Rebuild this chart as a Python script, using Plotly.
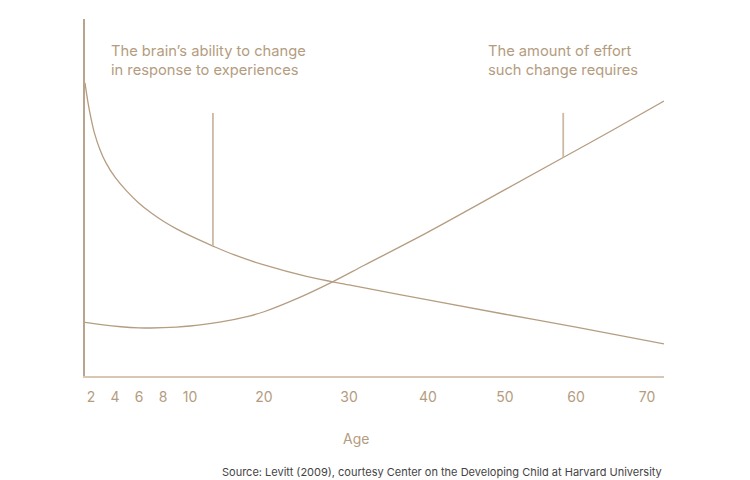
import numpy as np
import plotly.graph_objects as go

# ---- data ----
tick_ages = [2, 4, 6, 8, 10, 20, 30, 40, 50, 60, 70]
tick_labels = [str(a) for a in tick_ages]

# Brain's ability to change in response to experiences
plasticity_age = [1.5, 1.75, 2, 2.3, 2.75, 3.25, 4, 5, 6, 7, 8, 9, 10, 13.1, 16, 20, 25, 30, 40, 50, 60, 72.4]
plasticity = [82.1, 76.6, 72.2, 67.9, 63.4, 59.7, 55.7, 51.7, 48.4, 45.7, 43.4, 41.2, 39.3, 36.4,
              33.9, 31.1, 27.9, 25.5, 21.3, 17.3, 13.7, 9.0]

# Amount of effort such change requires
effort_age = [1.5, 3, 4.5, 6, 7, 9, 10, 14, 18, 20, 24, 28, 32, 40, 50, 58.2, 65, 72.4]
effort = [15.0, 14.3, 13.8, 13.5, 13.45, 13.7, 14.0, 15.1, 16.8, 18.0, 21.8, 26.3, 31.1, 40.3,
          52.2, 61.2, 68.7, 77.0]

# Pointer lines from the labels down to each curve
pointer_age = [13.1, 58.2]
pointer_bottom = [36.4, 61.2]
pointer_top = [73.7, 73.7]

label_brain = "The brain\u2019s ability to change<br>in response to experiences"
label_effort = "The amount of effort<br>such change requires"
x_title = "Age"
source = "Source: Levitt (2009), courtesy Center on the Developing Child at Harvard University"

# ---- layout of the illustrated (non-uniform) age axis ----
_knot_age = [1.5] + tick_ages + [72.4]
_knot_pos = [0, 6, 30, 54, 78, 105, 179, 264, 343, 420, 491, 562, 579]


def warp(a):
    return np.interp(np.asarray(a, dtype=float), _knot_age, _knot_pos)


TAN = "#b49c80"
LINE = "#b59d82"
FONT = "Inter, Lato, sans-serif"

fig = go.Figure()
fig.add_trace(go.Scatter(x=warp(plasticity_age), y=plasticity, mode="lines",
                         line=dict(color=LINE, width=1.3, shape="spline", smoothing=1.0),
                         hoverinfo="skip"))
fig.add_trace(go.Scatter(x=warp(effort_age), y=effort, mode="lines",
                         line=dict(color=LINE, width=1.3, shape="spline", smoothing=1.0),
                         hoverinfo="skip"))
for a, b, t in zip(pointer_age, pointer_bottom, pointer_top):
    fig.add_trace(go.Scatter(x=warp([a, a]), y=[b, t], mode="lines",
                             line=dict(color="#cdb9a4", width=1.8), hoverinfo="skip"))

# page has an 8px body margin; figure is sized so the plot lands where the reference has it
OFF = 8
W, H = 750 - OFF, 480 - OFF
L, R, T, B = 85 - OFF, 86, 19 - OFF, 104
pw, ph = W - L - R, H - T - B


def px(x):
    return (x - OFF - L) / pw


def py(y):
    return (H - B - (y - OFF)) / ph


fig.update_layout(
    width=W, height=H,
    margin=dict(l=L, r=R, t=T, b=B),
    paper_bgcolor="white", plot_bgcolor="white",
    showlegend=False,
    font=dict(family=FONT, color=TAN),
    xaxis=dict(range=[0, 579], tickvals=warp(tick_ages), ticktext=tick_labels,
               showgrid=False, zeroline=False, showline=True, linecolor="#d8c7b5",
               linewidth=2, ticks="outside", ticklen=7, tickcolor="rgba(0,0,0,0)",
               tickfont=dict(size=14, color=TAN, family=FONT), fixedrange=True),
    yaxis=dict(range=[0, 100], showgrid=False, zeroline=False, showline=True,
               linecolor="#b9a48d", linewidth=1.5, showticklabels=False, ticks="",
               fixedrange=True),
    annotations=[
        dict(text=label_brain, xref="paper", yref="paper", x=px(109), y=py(60),
             xanchor="left", yanchor="middle", align="left", showarrow=False,
             font=dict(size=14.7, color=TAN, family=FONT)),
        dict(text=label_effort, xref="paper", yref="paper", x=px(486), y=py(60),
             xanchor="left", yanchor="middle", align="left", showarrow=False,
             font=dict(size=14.7, color=TAN, family=FONT)),
        dict(text=x_title, xref="paper", yref="paper", x=px(356), y=py(438),
             xanchor="center", yanchor="middle", showarrow=False,
             font=dict(size=14, color=TAN, family=FONT)),
        dict(text=source, xref="paper", yref="paper", x=px(664), y=py(472),
             xanchor="right", yanchor="middle", showarrow=False,
             font=dict(size=11, color="#444444", family=FONT)),
    ],
)

fig.write_html("out.html")
